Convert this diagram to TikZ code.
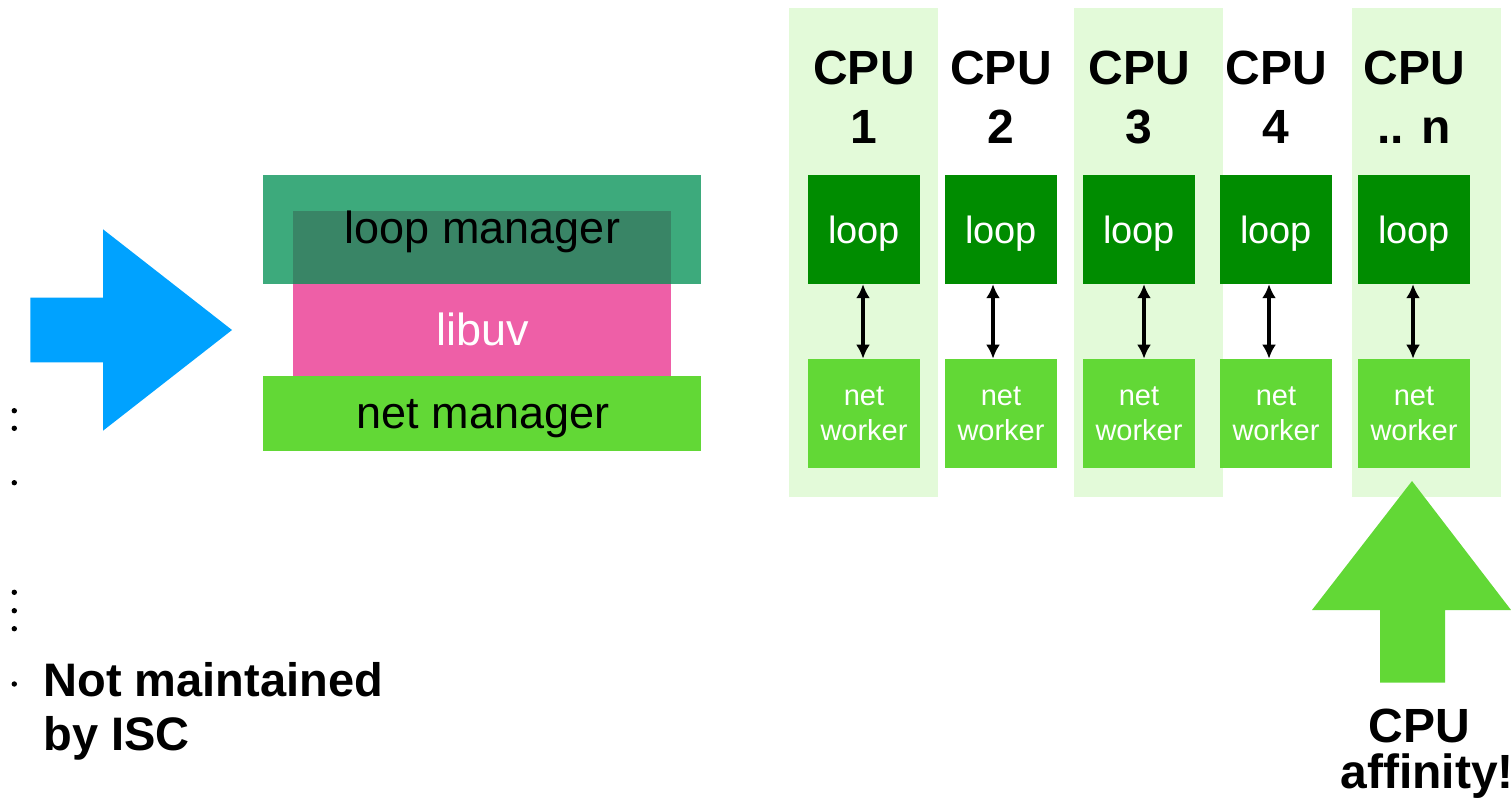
\documentclass[tikz,border=0pt]{standalone}
\usepackage{fontspec}
\setmainfont{Liberation Sans}
\usetikzlibrary{arrows.meta}
\definecolor{colbg}{HTML}{E3FAD9}
\definecolor{loopgreen}{HTML}{008C00}
\definecolor{workergreen}{HTML}{62D836}
\definecolor{arrowblue}{HTML}{00A2FF}
\definecolor{lmouter}{HTML}{3DAA7C}
\definecolor{lminner}{HTML}{398566}
\definecolor{libuvpink}{HTML}{EE5FA7}
\tikzset{
  colbox/.style={fill=colbg, draw=none, minimum width=149pt, minimum height=489pt, inner sep=0pt},
  loopbox/.style={fill=loopgreen, draw=none, minimum width=112pt, minimum height=109pt, inner sep=0pt,
    text=white, font=\fontsize{38}{46}\selectfont, text depth=0pt},
  workerbox/.style={fill=workergreen, draw=none, minimum width=112pt, minimum height=109pt, inner sep=0pt,
    text=white, align=center, font=\fontsize{29}{35}\selectfont},
  plain/.style={draw=none, fill=none, inner sep=0pt},
  cpulabel/.style={inner sep=0pt, anchor=base, align=center, font=\fontsize{48}{59}\selectfont\bfseries},
  stacktext/.style={inner sep=0pt, anchor=base, font=\fontsize{45}{54}\selectfont},
  bigtext/.style={inner sep=0pt, anchor=base west, font=\fontsize{47}{54}\selectfont\bfseries},
  link/.style={line width=3.4pt, {Latex[length=14pt,width=14pt]}-{Latex[length=14pt,width=14pt]}},
  bullet/.style={circle, fill=black, inner sep=0pt, minimum size=5.4pt}
}
\begin{document}
\begin{tikzpicture}[x=1pt,y=-1pt]
\useasboundingbox (0,0) rectangle (1511,805);

% bullets
\foreach \y [count=\i] in {410.7,428.3,482.7,592.3,610.7,628.7,684} {
  \node[bullet] (b\i) at (14.3,\y) {};
}

% blue arrow
\fill[arrowblue] (30.3,297.7) -- (103,297.7) -- (103,229.3) -- (232,330) -- (103,430.7) -- (103,362.3) -- (30.3,362.3) -- cycle;

% stack
\node[plain, fill=lmouter, minimum width=438pt, minimum height=109pt] (lmout) at (482,229.5) {};
\node[plain, fill=libuvpink, minimum width=378pt, minimum height=92pt] (libuv) at (482,330) {};
\node[plain, fill=lminner, minimum width=378pt, minimum height=73pt] (lmin) at (482,247.5) {};
\node[plain, fill=workergreen, minimum width=438pt, minimum height=75pt] (netmgr) at (482,413.3) {};
\node[stacktext] (lmtext) at (482.5,243) {loop manager};
\node[stacktext, text=white] (libuvtext) at (482.5,345) {libuv};
\node[stacktext] (nmtext) at (483,428) {net manager};

% column backgrounds
\node[colbox] (col1) at (863.3,252.3) {};
\node[colbox] (col3) at (1148.3,252.3) {};
\node[colbox] (col5) at (1426.5,252.3) {};

% CPU labels (anchor base = last line)
\node[cpulabel] (cpu1) at (864,144) {CPU\\1};
\node[cpulabel] (cpu2) at (1001,144) {CPU\\2};
\node[cpulabel] (cpu3) at (1139,144) {CPU\\3};
\node[cpulabel] (cpu4) at (1276,144) {CPU\\4};
\node[cpulabel] (cpu5) at (1414,144) {CPU\\.. n};

% loop / worker boxes
\foreach \x/\n in {864/1,1001/2,1139/3,1276/4,1414/5} {
  \node[loopbox] (loop\n) at (\x,229.5) {loop};
  \node[workerbox] (work\n) at (\x,413.4) {net\\worker};
}

% links
\draw[link] ([xshift=-1pt]loop1.south) -- ([xshift=-1pt]work1.north);
\draw[link] ([xshift=-8pt]loop2.south) -- ([xshift=-8pt]work2.north);
\draw[link] ([xshift=5pt]loop3.south) -- ([xshift=5pt]work3.north);
\draw[link] ([xshift=-7pt]loop4.south) -- ([xshift=-7pt]work4.north);
\draw[link] ([xshift=-1pt]loop5.south) -- ([xshift=-1pt]work5.north);

% green up arrow
\fill[workergreen] (1380,682.7) -- (1380,610) -- (1312,610) -- (1412,481) -- (1511,610) -- (1445,610) -- (1445,682.7) -- cycle;

% texts
\node[cpulabel] (aff1) at (1419,742) {CPU};
\node[cpulabel] (aff2) at (1427,788) {affinity!};
\node[bigtext] (nm1) at (43.3,696) {Not maintained};
\node[bigtext] (nm2) at (43.3,750) {by ISC};
\end{tikzpicture}
\end{document}
